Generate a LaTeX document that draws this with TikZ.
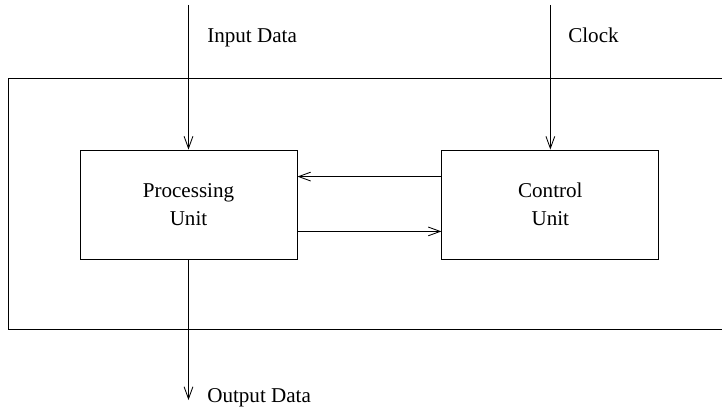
\documentclass[tikz,border=0pt]{standalone}
\usepackage{fontspec}
\setmainfont{Liberation Serif}
\usetikzlibrary{positioning, arrows.meta, calc}

\begin{document}
\begin{tikzpicture}[
    unit/.style={rectangle, draw=black, line width=0.6pt, minimum width=5.425cm, minimum height=2.725cm, align=center, font=\fontsize{15}{18}\selectfont, inner sep=0pt},
    lbl/.style={anchor=base west, font=\fontsize{15}{18}\selectfont, inner sep=0pt},
    arr/.style={-{Straight Barb[length=0.3cm, width=0.22cm]}, line width=0.6pt}
]
    \useasboundingbox (0,0) rectangle (18.05,-10.225);

    % system boundary, runs off the right edge
    \draw[line width=0.6pt] (0.2,-1.95) rectangle (18.4,-8.225);

    \node[unit] (proc) at (4.7125,-5.1125) {Processing\\[2pt]Unit};
    \node[unit] (ctrl) [right=3.6cm of proc] {Control\\[2pt]Unit};

    \coordinate (datain) at (proc.north |- 0,-0.125);
    \coordinate (clkin) at (ctrl.north |- 0,-0.125);
    \coordinate (dataout) at (proc.south |- 0,-10.0);

    \draw[arr] (datain) -- (proc.north);
    \draw[arr] (clkin) -- (ctrl.north);
    \draw[arr] (proc.south) -- (dataout);

    \draw[arr] ($(ctrl.north west)+(0,-0.675)$) -- ($(proc.north east)+(0,-0.675)$);
    \draw[arr] ($(proc.south east)+(0,0.7)$) -- ($(ctrl.south west)+(0,0.7)$);

    \node[lbl] (inlbl) at (5.175,-1.07) {Input Data};
    \node[lbl] (clklbl) at (14.2,-1.07) {Clock};
    \node[lbl] (outlbl) at (5.175,-10.05) {Output Data};
\end{tikzpicture}
\end{document}
